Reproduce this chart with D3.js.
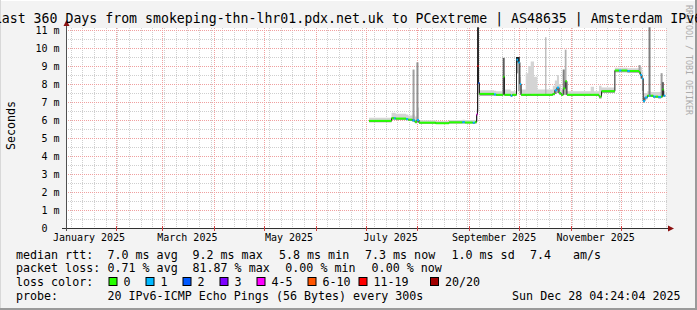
<!DOCTYPE html>
<meta charset="utf-8">

<!-- Load d3.js -->
<script src="https://d3js.org/d3.v7.min.js"></script>

<style>
  body { margin: 0; background: #f3f3f3; }
  text { font-family: "DejaVu Sans Mono", monospace; white-space: pre; }
</style>

<!-- Create a div where the graph will take place -->
<div id="my_dataviz"></div>

<script>

// ---- data ----
var timeStart = "2025-01-02 04:24",
    timeEnd   = "2025-12-28 04:24";

// bucket start times (step-after)
var bucketDates = [
  "2025-07-03 00:00","2025-07-16 12:00","2025-07-18 00:00","2025-07-19 00:00","2025-07-25 06:00",
  "2025-07-26 12:00","2025-07-29 00:00","2025-07-30 12:00","2025-07-31 18:00","2025-08-02 00:00",
  "2025-08-12 00:00","2025-08-20 00:00","2025-08-28 00:00","2025-08-29 12:00","2025-09-03 06:00",
  "2025-09-04 12:00","2025-09-05 12:00","2025-09-06 02:00","2025-09-06 16:00","2025-09-07 06:00",
  "2025-09-16 00:00","2025-09-17 06:00","2025-09-21 12:00","2025-09-22 06:00","2025-09-26 00:00",
  "2025-09-27 00:00","2025-09-29 12:00","2025-09-30 12:00","2025-10-01 12:00","2025-10-02 06:00",
  "2025-10-05 00:00","2025-10-06 12:00","2025-10-08 00:00","2025-10-10 00:00","2025-10-12 00:00",
  "2025-10-21 06:00","2025-10-22 12:00","2025-10-23 18:00","2025-10-25 00:00","2025-10-26 06:00",
  "2025-10-27 12:00","2025-10-28 18:00","2025-10-29 18:00","2025-11-13 00:00","2025-11-15 00:00",
  "2025-11-18 00:00","2025-11-19 12:00","2025-11-27 12:00","2025-11-30 00:00","2025-12-01 12:00",
  "2025-12-05 00:00","2025-12-06 12:00","2025-12-12 00:00","2025-12-12 18:00","2025-12-13 18:00",
  "2025-12-14 12:00","2025-12-15 12:00","2025-12-17 00:00","2025-12-18 00:00","2025-12-19 00:00",
  "2025-12-20 12:00","2025-12-22 00:00","2025-12-23 12:00","2025-12-25 06:00","2025-12-26 00:00",
  "2025-12-26 18:00"
];
var lastBucketEnd = "2025-12-27 18:00";

// median rtt (ms)
var medianRtt = [
  5.95, 6.10, 6.10, 6.08, 6.05,  6.02, 5.98, 5.90, 6.00, 5.85,
  5.82, 5.87, 5.88, 5.86, 5.85,  5.88, 6.30, 9.00, 8.05, 7.45,
  7.42, 7.40, 8.40, 7.40, 7.35,  7.40, 9.35, 9.20, 8.00, 7.40,
  7.40, 7.40, 7.40, 7.40, 7.40,  7.45, 7.65, 7.80, 7.50, 7.40,
  7.75, 8.15, 7.40, 7.40, 7.40,  7.30, 7.60, 8.75, 8.75, 8.75,
  8.72, 8.72, 8.65, 8.50, 8.30,  7.05, 7.25, 7.35, 7.35, 7.35,
  7.30, 7.30, 7.28, 7.30, 7.70,  7.35
];
// lowest ping of the smoke (ms)
var smokeLo = [
  5.88, 6.02, 6.02, 6.00, 5.98,  5.95, 5.90, 5.82, 5.85, 5.80,
  5.78, 5.80, 5.80, 5.80, 5.78,  5.80, 5.90, 6.50, 7.40, 7.35,
  7.35, 7.35, 7.40, 7.35, 7.30,  7.35, 8.60, 7.60, 7.40, 7.35,
  7.35, 7.35, 7.35, 7.35, 7.35,  7.38, 7.45, 7.50, 7.40, 7.35,
  7.40, 7.40, 7.35, 7.35, 7.35,  7.20, 7.50, 8.65, 8.65, 8.65,
  8.62, 8.62, 8.55, 8.30, 7.60,  6.95, 7.15, 7.28, 7.28, 7.28,
  7.22, 7.22, 7.20, 7.22, 7.30,  7.28
];
// highest ping of the smoke (ms)
var smokeHi = [
  6.12, 6.40, 6.40, 6.35, 6.30,  6.25, 6.30, 6.20, 6.70, 5.98,
  5.95, 6.00, 6.02, 6.00, 6.00,  6.00, 6.60, 9.60, 8.80, 7.65,
  7.62, 7.60, 8.60, 7.70, 7.60,  7.60, 9.50, 9.50, 8.40, 7.70,
  8.60, 9.00, 9.25, 8.40, 7.70,  7.90, 8.20, 8.50, 8.00, 7.70,
  8.80, 9.90, 7.60, 7.85, 7.60,  7.90, 7.80, 8.90, 8.90, 8.90,
  8.88, 8.88, 9.05, 8.95, 8.70,  7.50, 7.50, 7.60, 7.60, 7.55,
  7.55, 7.55, 7.55, 8.10, 8.10,  7.60
];
// lost pings out of 20
var lostPings = [
  0, 0, 1, 0, 1,  0, 1, 0, 1, 0,
  0, 0, 1, 0, 1,  0, 4, 13, 2, 0,
  1, 0, 0, 0, 1,  0, 1, 1, 1, 0,
  0, 0, 0, 0, 0,  0, 1, 1, 0, 0,
  0, 0, 0, 0, 0,  0, 0, 0, 1, 0,
  1, 0, 0, 1, 1,  1, 1, 0, 1, 0,
  1, 0, 1, 0, 0,  1
];

// single tall outliers in the smoke
var spikeDates = ["2025-07-29 10:00","2025-07-31 18:00","2025-09-06 02:00","2025-09-21 12:00",
                  "2025-09-29 12:00","2025-09-30 12:00","2025-10-17 00:00","2025-10-27 12:00",
                  "2025-10-28 18:00","2025-12-12 00:00","2025-12-18 00:00","2025-12-25 06:00",
                  "2025-12-26 00:00"];
var spikeTops  = [8.8, 9.2, 11.15, 9.45, 9.5, 9.5, 10.6, 8.8, 9.9, 9.05, 11.15, 8.6, 8.1];
var spikePings = [2, 3, 9, 6, 10, 10, 1, 4, 1, 2, 4, 2, 6];

var yTicks = [0, 1, 2, 3, 4, 5, 6, 7, 8, 9, 10, 11];

var lossLabels = ["0", "1", "2", "3", "4-5", "6-10", "11-19", "20/20"];
var lossColors = ["#26ff00", "#00b8ff", "#0059ff", "#7e00ff", "#ff00ff", "#ff5500", "#ff0000", "#a10000"];
var lossBreaks = [1, 2, 3, 4, 6, 11, 20];

var titleText = "Last 360 Days from smokeping-thn-lhr01.pdx.net.uk to PCextreme | AS48635 | Amsterdam IPv6";

// ---- layout ----
var W = 697, H = 310;
var plot = {left: 66, right: 666, top: 28, bottom: 228};
var mono = "'DejaVu Sans Mono', monospace";

var parse = d3.utcParse("%Y-%m-%d %H:%M");
var t0 = parse(timeStart), t1 = parse(timeEnd);

var data = bucketDates.map(function(d, i) {
  return {t: parse(d), t2: parse(bucketDates[i + 1] || lastBucketEnd),
          med: medianRtt[i], lo: smokeLo[i], hi: smokeHi[i], loss: lostPings[i]};
});

var svg = d3.select("#my_dataviz")
  .append("svg")
    .attr("width", W)
    .attr("height", H);

// background + 3d frame
svg.append("rect").attr("width", W).attr("height", H).attr("fill", "#f3f3f3");
svg.append("rect").attr("x", 0).attr("y", 0).attr("width", W).attr("height", 1).attr("fill", "#ffffff");
svg.append("rect").attr("x", 0).attr("y", 0).attr("width", 1).attr("height", H).attr("fill", "#d8d8d8");
svg.append("rect").attr("x", W - 2).attr("y", 0).attr("width", 2).attr("height", H).attr("fill", "#9a9a9a");
svg.append("rect").attr("x", 0).attr("y", H - 2).attr("width", W).attr("height", 2).attr("fill", "#9a9a9a");

// canvas
svg.append("rect")
  .attr("x", plot.left).attr("y", plot.top)
  .attr("width", plot.right - plot.left).attr("height", plot.bottom - plot.top)
  .attr("fill", "#ffffff");

var x = d3.scaleUtc().domain([t0, t1]).range([plot.left, plot.right]);
var y = d3.scaleLinear().domain([0, 11.11]).range([plot.bottom, plot.top]);

var lossColor = d3.scaleThreshold().domain(lossBreaks).range(lossColors);

// grid
var grid = svg.append("g").attr("fill", "none").attr("stroke-dasharray", "1,1").attr("shape-rendering", "crispEdges");

var minorY = d3.range(0.5, 11.1, 1);
grid.selectAll(".hmin").data(minorY).enter().append("line")
  .attr("x1", plot.left).attr("x2", plot.right + 2)
  .attr("y1", function(d) { return Math.round(y(d)) + 0.5; })
  .attr("y2", function(d) { return Math.round(y(d)) + 0.5; })
  .attr("stroke", "#cfcfcf");

var weeks = d3.utcSunday.range(t0, t1);
grid.selectAll(".vmin").data(weeks).enter().append("line")
  .attr("x1", function(d) { return Math.round(x(d)) + 0.5; })
  .attr("x2", function(d) { return Math.round(x(d)) + 0.5; })
  .attr("y1", plot.top).attr("y2", plot.bottom)
  .attr("stroke", "#cfcfcf");

grid.selectAll(".hmaj").data(yTicks.slice(1)).enter().append("line")
  .attr("x1", plot.left).attr("x2", plot.right + 2)
  .attr("y1", function(d) { return Math.round(y(d)) + 0.5; })
  .attr("y2", function(d) { return Math.round(y(d)) + 0.5; })
  .attr("stroke", "#f0a0a0");

var months = d3.utcMonth.range(t0, t1);
grid.selectAll(".vmaj").data(months).enter().append("line")
  .attr("x1", function(d) { return Math.round(x(d)) + 0.5; })
  .attr("x2", function(d) { return Math.round(x(d)) + 0.5; })
  .attr("y1", plot.top).attr("y2", plot.bottom + 2)
  .attr("stroke", "#f0a0a0");

// smoke
var smoke = d3.area()
  .curve(d3.curveStepAfter)
  .x(function(d) { return x(d.t); })
  .y0(function(d) { return y(d.lo); })
  .y1(function(d) { return y(d.hi); });
var smokeLow = d3.area()
  .curve(d3.curveStepAfter)
  .x(function(d) { return x(d.t); })
  .y0(function(d) { return y(d.lo); })
  .y1(function(d) { return y(d.med); });

var withEnd = data.concat([{t: parse(lastBucketEnd), med: medianRtt[medianRtt.length - 1],
  lo: smokeLo[smokeLo.length - 1], hi: smokeHi[smokeHi.length - 1]}]);

svg.append("path").datum(withEnd).attr("d", smoke).attr("fill", "#d4d4d4");
svg.append("path").datum(withEnd).attr("d", smokeLow).attr("fill", "#a4a4a4");

// outliers
var shade = d3.scaleLinear().domain([1, 10]).range(["#b0b0b0", "#1e1e1e"]);
var bisect = d3.bisector(function(d) { return d.t; }).right;
svg.append("g").selectAll("rect")
  .data(spikeDates.map(function(d, i) { return {t: parse(d), top: spikeTops[i], n: spikePings[i]}; }))
  .enter().append("rect")
    .attr("x", function(d) { return x(d.t) - 0.5; })
    .attr("width", function(d) { return d.n > 1 ? 2 : 1.2; })
    .attr("y", function(d) { return y(d.top); })
    .attr("height", function(d) {
      var b = data[Math.max(0, bisect(data, d.t) - 1)];
      return y(b.med) - y(d.top);
    })
    .attr("fill", function(d) { return shade(d.n); });

// median line: dark steps, colored levels
var stepLine = d3.line()
  .curve(d3.curveStepAfter)
  .x(function(d) { return x(d.t); })
  .y(function(d) { return y(d.med); });
svg.append("path").datum(withEnd).attr("d", stepLine)
  .attr("fill", "none").attr("stroke", "#202020").attr("stroke-width", 1);

svg.append("g").selectAll("line")
  .data(data)
  .enter().append("line")
    .attr("x1", function(d) { return x(d.t); })
    .attr("x2", function(d) { return x(d.t2); })
    .attr("y1", function(d) { return y(d.med); })
    .attr("y2", function(d) { return y(d.med); })
    .attr("stroke", function(d) { return lossColor(d.loss); })
    .attr("stroke-width", 2);

// axes
var axisG = svg.append("g").attr("shape-rendering", "crispEdges");
axisG.append("line")
  .attr("x1", plot.left - 4).attr("x2", plot.right + 3)
  .attr("y1", plot.bottom + 0.5).attr("y2", plot.bottom + 0.5)
  .attr("stroke", "#303030");
axisG.append("line")
  .attr("x1", plot.left + 0.5).attr("x2", plot.left + 0.5)
  .attr("y1", plot.bottom + 3).attr("y2", plot.top - 4)
  .attr("stroke", "#505050");
axisG.selectAll(".mt").data(months).enter().append("line")
  .attr("x1", function(d) { return Math.round(x(d)) + 0.5; })
  .attr("x2", function(d) { return Math.round(x(d)) + 0.5; })
  .attr("y1", plot.bottom - 2).attr("y2", plot.bottom + 3)
  .attr("stroke", "#d04040");

svg.append("path")
  .attr("d", "M" + (plot.left - 2.5) + "," + (plot.top - 2) + "L" + (plot.left + 3.5) + "," + (plot.top - 2) +
             "L" + (plot.left + 0.5) + "," + (plot.top - 8) + "Z")
  .attr("fill", "#8b1010");
svg.append("path")
  .attr("d", "M" + (plot.right + 2) + "," + (plot.bottom - 2.5) + "L" + (plot.right + 2) + "," + (plot.bottom + 3.5) +
             "L" + (plot.right + 8) + "," + (plot.bottom + 0.5) + "Z")
  .attr("fill", "#8b1010");

// y tick labels
var yl = svg.append("g").attr("font-family", mono).attr("font-size", "10px").attr("fill", "#000");
yl.selectAll(".yn").data(yTicks).enter().append("text")
  .attr("x", 47.5).attr("y", function(d) { return y(d) + 3.6; })
  .attr("text-anchor", "end")
  .text(function(d) { return d; });
yl.selectAll(".yu").data(yTicks.slice(1)).enter().append("text")
  .attr("x", 53.5).attr("y", function(d) { return y(d) + 3.6; })
  .text("m");

// x labels: every other month, centred mid-month
var labelMonths = d3.utcMonth.every(2).range(d3.utcYear.floor(t0), t1);
svg.append("g").selectAll("text")
  .data(labelMonths)
  .enter().append("text")
    .attr("x", function(d) { return x(d3.utcDay.offset(d, 15)); })
    .attr("y", 241.3)
    .attr("text-anchor", "middle")
    .attr("font-family", mono).attr("font-size", "10px")
    .text(function(d) { return d3.utcFormat("%B %Y")(d); });

// titles
svg.append("text")
  .attr("transform", "translate(14.5,125.5) rotate(-90)")
  .attr("text-anchor", "middle")
  .attr("font-family", mono).attr("font-size", "11.66px")
  .text("Seconds");

svg.append("text")
  .attr("transform", "translate(685.5,5) rotate(90)")
  .attr("font-family", mono).attr("font-size", "8.3px")
  .attr("fill", "#acacac")
  .text("RRDTOOL / TOBI OETIKER");

// title is wider than the image, as in the original: it starts left of the edge
svg.append("text")
  .attr("x", -6.2).attr("y", 23)
  .attr("font-family", mono).attr("font-size", "13.22px")
  .text(titleText);

// legend
var legendRows = [
  [[16, "median rtt:"], [107.5, "7.0 ms avg"], [192.5, "9.2 ms max"], [279, "5.8 ms min"],
   [365, "7.3 ms now"], [451.5, "1.0 ms sd"], [530, "7.4"], [573, "am/s"]],
  [[16, "packet loss:"], [107.5, "0.71 % avg"], [192.5, "81.87 % max"], [285.3, "0.00 % min"],
   [371.6, "0.00 % now"]],
  [[16, "loss color:"]],
  [[16, "probe:"], [107.5, "20 IPv6-ICMP Echo Pings (56 Bytes) every 300s"]]
];
var rowBase = [258.5, 272.2, 285.9, 299.6];
var lg = svg.append("g").attr("font-family", mono).attr("font-size", "11.66px").attr("fill", "#000");
legendRows.forEach(function(row, r) {
  row.forEach(function(it) {
    lg.append("text").attr("x", it[0]).attr("y", rowBase[r]).text(it[1]);
  });
});
lg.append("text").attr("x", 680.5).attr("y", rowBase[3]).attr("text-anchor", "end")
  .text("Sun Dec 28 04:24:04 2025");

var boxX = [108.5, 145.5, 182.5, 219.5, 256.5, 307.5, 358.5, 430];
lossLabels.forEach(function(lab, i) {
  lg.append("rect")
    .attr("x", boxX[i] + 0.5).attr("y", 277.5)
    .attr("width", 8).attr("height", 8)
    .attr("fill", lossColors[i]).attr("stroke", "#000").attr("stroke-width", 1);
  lg.append("text").attr("x", boxX[i] + 15).attr("y", rowBase[2]).text(lab);
});

</script>
